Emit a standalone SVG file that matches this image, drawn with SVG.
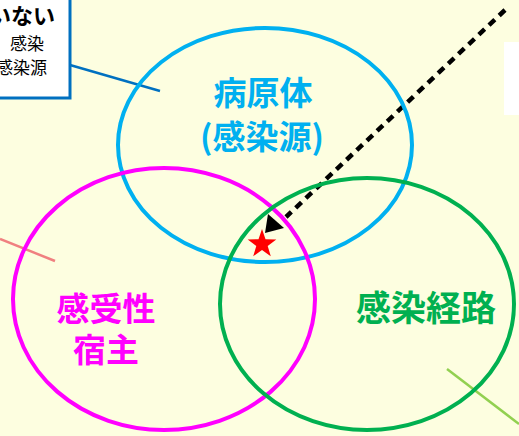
<svg xmlns="http://www.w3.org/2000/svg" width="519" height="436" viewBox="0 0 519 436">
<style>
.lbl{font-family:"Noto Sans CJK JP","Noto Sans",sans-serif;font-weight:bold;text-anchor:middle}
.note{font-family:"Noto Sans CJK JP","Noto Sans",sans-serif;fill:#000;text-anchor:end}
.ring{fill:none;stroke-width:4}
</style>
<rect width="519" height="436" fill="#FDFEE0"/>
<g id="note-left">
<rect x="-10" y="-10" width="80" height="108" fill="#fff" stroke="#0070C0" stroke-width="3"/>
<text class="note" x="55" y="24" font-size="22" font-weight="bold">いない</text>
<text class="note" x="44" y="50" font-size="17">感染</text>
<text class="note" x="47" y="74" font-size="17">感染源</text>
</g>
<g id="note-right">
<rect x="504" y="42" width="20" height="73" fill="#fff"/>
</g>
<g id="connectors">
<line x1="70" y1="65" x2="160" y2="91" stroke="#0070C0" stroke-width="2.5"/>
<line x1="0" y1="239" x2="55" y2="261" stroke="#F08080" stroke-width="2.5"/>
<line x1="447" y1="369" x2="519" y2="424" stroke="#92D050" stroke-width="2.5"/>
<line x1="505" y1="10" x2="286" y2="217" stroke="#000" stroke-width="4.5" stroke-dasharray="8,6"/>
<polygon points="265,233 268,214 284,228" fill="#000"/>
</g>
<g id="pathogen">
<ellipse class="ring" cx="265" cy="145" rx="147" ry="117" stroke="#00B0F0"/>
<text class="lbl" x="263" y="105" font-size="33" fill="#00B0F0">病原体</text>
<text class="lbl" x="262" y="149" font-size="33" fill="#00B0F0">(感染源)</text>
</g>
<g id="host">
<ellipse class="ring" cx="164" cy="299" rx="151" ry="131" stroke="#FF00FF"/>
<text class="lbl" x="106" y="321" font-size="33" fill="#FF00FF">感受性</text>
<text class="lbl" x="106" y="362" font-size="33" fill="#FF00FF">宿主</text>
</g>
<g id="route">
<ellipse class="ring" cx="367" cy="304" rx="147" ry="126" stroke="#00B050"/>
<text class="lbl" x="426" y="321" font-size="35" fill="#00B050">感染経路</text>
</g>
<g id="star">
<polygon points="262,229 265.5,239.2 276.3,239.4 267.7,245.9 270.8,256.3 262,250.1 253.2,256.3 256.3,245.9 247.7,239.4 258.5,239.2" fill="#FF0000"/>
</g>
</svg>
